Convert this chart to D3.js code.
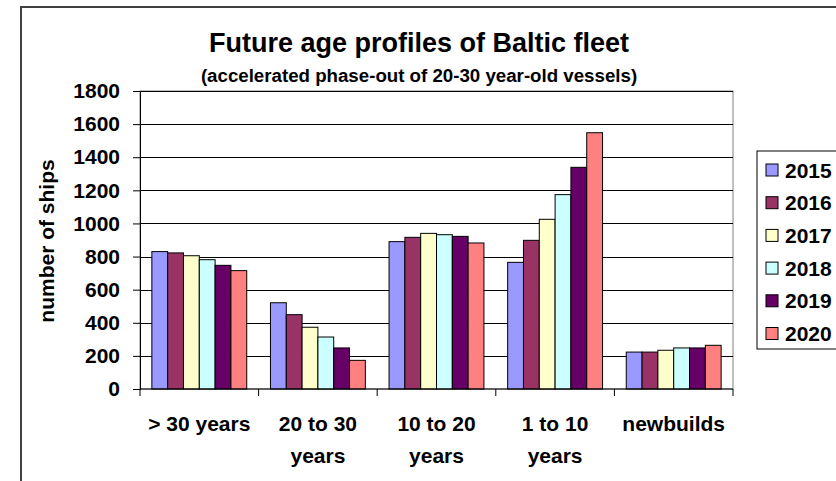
<!DOCTYPE html>
<html>
<head>
<meta charset="utf-8">
<script src="https://cdn.jsdelivr.net/npm/d3@7"></script>
<style>
	body { margin: 0; background: #fff; }
	text { font-family: Arial, "Liberation Sans", sans-serif; font-weight: bold; fill: #000; }
</style>
</head>
<body>
<script>
var categories = [["> 30 years"], ["20 to 30", "years"], ["10 to 20", "years"], ["1 to 10", "years"], ["newbuilds"]];
var years = ["2015", "2016", "2017", "2018", "2019", "2020"];
var colors = ["#9999ff", "#993366", "#ffffcc", "#ccffff", "#660066", "#ff8080"];
var over30 = [830, 822, 805, 781, 747, 715];
var from20to30 = [521, 449, 373, 314, 248, 173];
var from10to20 = [890, 916, 940, 932, 922, 882];
var from1to10 = [765, 898, 1025, 1174, 1339, 1548];
var newbuilds = [223, 223, 234, 248, 248, 264];
var yTicks = [0, 200, 400, 600, 800, 1000, 1200, 1400, 1600, 1800];

var series = [over30, from20to30, from10to20, from1to10, newbuilds];

var svg = d3.select("body").append("svg")
	.attr("width", 836)
	.attr("height", 481);

var margin = {top: 91, left: 140},
	width = 593,
	height = 298,
	titleX = 419;

// outer chart frame
svg.append("rect")
	.attr("x", 21).attr("y", 7)
	.attr("width", 830).attr("height", 490)
	.attr("fill", "#fff")
	.attr("stroke", "#404040")
	.attr("stroke-width", 2);

var g = svg.append("g").attr("transform", "translate(" + margin.left + "," + margin.top + ")");

var x0 = d3.scaleBand()
	.domain(d3.range(categories.length))
	.range([0, width])
	.paddingInner(0)
	.paddingOuter(0);

// six bars take 6/7.5 of a category (gap width 150%)
var x1 = d3.scaleBand()
	.domain(years)
	.range([x0.bandwidth() * 0.1, x0.bandwidth() * 0.9]);

var y = d3.scaleLinear()
	.domain([0, 1800])
	.range([height, 0]);

// plot area border
g.append("rect")
	.attr("width", width).attr("height", height)
	.attr("fill", "none")
	.attr("stroke", "#808080");

// gridlines
g.selectAll(".grid")
	.data(yTicks.slice(1))
	.enter().append("line")
	.attr("class", "grid")
	.attr("x1", 0).attr("x2", width)
	.attr("y1", function(d){return Math.round(y(d)) + 0.5;})
	.attr("y2", function(d){return Math.round(y(d)) + 0.5;})
	.attr("stroke", "#000")
	.attr("stroke-width", 1);

// bars
var groups = g.selectAll(".cat")
	.data(series)
	.enter().append("g")
	.attr("class", "cat")
	.attr("transform", function(d, i){return "translate(" + x0(i) + ",0)";});

groups.selectAll("rect")
	.data(function(d){return d.map(function(v, j){return {year: years[j], value: v, color: colors[j]};});})
	.enter().append("rect")
	.attr("x", function(d){return x1(d.year);})
	.attr("width", x1.bandwidth())
	.attr("y", function(d){return y(d.value);})
	.attr("height", function(d){return y(0) - y(d.value);})
	.attr("fill", function(d){return d.color;})
	.attr("stroke", "#000")
	.attr("stroke-width", 1);

// y axis
var yAxis = g.append("g")
	.call(d3.axisLeft(y).tickValues(yTicks).tickFormat(d3.format("d")).tickSize(7).tickPadding(13));
yAxis.select(".domain").attr("stroke", "#000");
yAxis.selectAll("text")
	.style("font-size", "21px")
	.style("font-weight", "bold")
	.attr("fill", "#000");

// x axis
var xAxis = g.append("g").attr("transform", "translate(0," + height + ")");
xAxis.append("line")
	.attr("x1", 0).attr("x2", width)
	.attr("stroke", "#000");
xAxis.selectAll(".tick")
	.data(d3.range(categories.length + 1))
	.enter().append("line")
	.attr("class", "tick")
	.attr("x1", function(d){return d * x0.step();})
	.attr("x2", function(d){return d * x0.step();})
	.attr("y1", 0).attr("y2", 7)
	.attr("stroke", "#000");

var labels = xAxis.selectAll(".label")
	.data(categories)
	.enter().append("text")
	.attr("class", "label")
	.attr("text-anchor", "middle")
	.attr("font-size", 21)
	.attr("transform", function(d, i){return "translate(" + (x0(i) + x0.bandwidth() / 2) + ",42)";});
labels.selectAll("tspan")
	.data(function(d){return d;})
	.enter().append("tspan")
	.attr("x", 0)
	.attr("y", function(d, i){return i * 32;})
	.text(function(d){return d;});

// y axis title
svg.append("text")
	.attr("transform", "translate(54,241) rotate(-90)")
	.attr("text-anchor", "middle")
	.attr("font-size", 21)
	.text("number of ships");

// titles
svg.append("text")
	.attr("x", titleX)
	.attr("y", 52)
	.attr("text-anchor", "middle")
	.attr("font-size", 27)
	.text("Future age profiles of Baltic fleet");

svg.append("text")
	.attr("x", titleX)
	.attr("y", 82)
	.attr("text-anchor", "middle")
	.attr("font-size", 18.7)
	.text("(accelerated phase-out of 20-30 year-old vessels)");

// legend
var legend = svg.append("g").attr("transform", "translate(757,151)");
legend.append("rect")
	.attr("width", 100).attr("height", 198)
	.attr("fill", "#fff")
	.attr("stroke", "#000");

var items = legend.selectAll(".item")
	.data(years)
	.enter().append("g")
	.attr("class", "item")
	.attr("transform", function(d, i){return "translate(0," + (19 + i * 32.7) + ")";});
items.append("rect")
	.attr("x", 9).attr("y", -6)
	.attr("width", 12).attr("height", 12)
	.attr("fill", function(d, i){return colors[i];})
	.attr("stroke", "#000");
items.append("text")
	.attr("x", 28)
	.attr("dy", "0.36em")
	.attr("font-size", 21)
	.text(function(d){return d;});
</script>
</body>
</html>
